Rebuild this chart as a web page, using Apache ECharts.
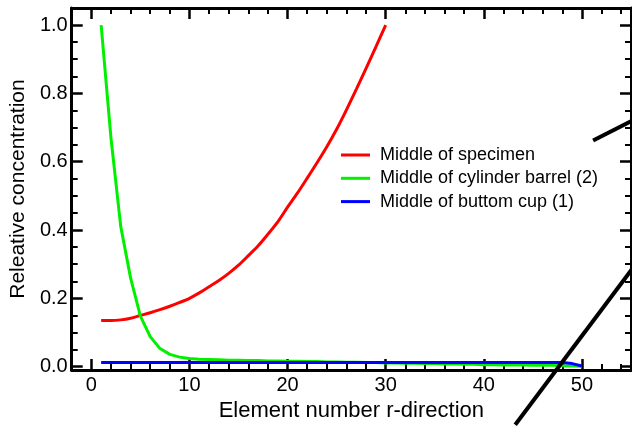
<!DOCTYPE html>
<html><head><meta charset="utf-8">
<script src="https://cdn.jsdelivr.net/npm/echarts@6/dist/echarts.min.js"></script>
<style>html,body{margin:0;padding:0;background:#fff}#c{width:632px;height:427px}</style>
</head><body><div id="c"></div>
<script>
// ---- data ----
const seriesNames = ['Middle of specimen', 'Middle of cylinder barrel (2)', 'Middle of buttom cup (1)'];
const redElements = [1,2,3,4,5,6,7,8,9,10,11,12,13,14,15,16,17,18,19,20,21,22,23,24,25,26,27,28,29,30];
const redValues = [0.135,0.135,0.137,0.142,0.150,0.158,0.167,0.177,0.188,0.200,0.216,0.234,0.252,0.273,0.297,0.325,0.354,0.388,0.424,0.467,0.508,0.552,0.597,0.644,0.695,0.752,0.812,0.873,0.936,1.000];
const fullElements = [1,2,3,4,5,6,7,8,9,10,11,12,13,14,15,16,17,18,19,20,21,22,23,24,25,26,27,28,29,30,31,32,33,34,35,36,37,38,39,40,41,42,43,44,45,46,47,48,49,50];
const greenValues = [1.0,0.67,0.41,0.26,0.148,0.088,0.053,0.036,0.028,0.024,0.022,0.021,0.020,0.019,0.019,0.018,0.018,0.017,0.017,0.016,0.016,0.015,0.015,0.014,0.014,0.013,0.013,0.012,0.012,0.011,0.011,0.010,0.010,0.009,0.009,0.008,0.008,0.007,0.007,0.006,0.006,0.005,0.005,0.005,0.004,0.004,0.004,0.003,0.002,0.001];
const blueValues = [0.012,0.012,0.012,0.012,0.012,0.012,0.012,0.012,0.012,0.012,0.012,0.012,0.012,0.012,0.012,0.012,0.012,0.012,0.012,0.012,0.012,0.012,0.012,0.012,0.012,0.012,0.012,0.012,0.012,0.012,0.012,0.012,0.012,0.012,0.012,0.012,0.012,0.012,0.012,0.012,0.012,0.012,0.012,0.012,0.012,0.012,0.012,0.012,0.009,0.002];
// stray black strokes from a neighbouring figure (in this chart's data coordinates)
const strayLineA = [[51.14, 0.662], [55.5, 0.726]];
const strayLineB = [[43.2, -0.170], [55.5, 0.301]];
// tick labels
const xMajorTicks = [0, 10, 20, 30, 40, 50];
const xMinorTicks = [2,4,6,8,12,14,16,18,22,24,26,28,32,34,36,38,42,44,46,48,52,54];
const yMajorTicks = [0, 0.2, 0.4, 0.6, 0.8, 1.0];
const yMinorTicks = [0.05,0.1,0.15,0.25,0.3,0.35,0.45,0.5,0.55,0.65,0.7,0.75,0.85,0.9,0.95];

// ---- chart ----
const FONT = '"Liberation Sans", Arial, Helvetica, sans-serif';
const pair = (xs, ys) => xs.map((x, i) => [x, ys[i]]);

function axis(kind, pos, ticks, len, w, showLine, labels, extra) {
  const a = {
    type: 'value', position: pos,
    min: kind === 'x' ? -2 : -0.01, max: kind === 'x' ? 55 : 1.05,
    axisLine: { show: showLine, onZero: false, lineStyle: { color: '#000', width: 3 } },
    axisTick: { show: true, inside: true, length: len, customValues: ticks, lineStyle: { color: '#000', width: w } },
    axisLabel: labels ? Object.assign({ customValues: ticks, color: '#000', fontFamily: FONT, fontSize: 20 }, labels) : { show: false },
    splitLine: { show: false }
  };
  return Object.assign(a, extra || {});
}

const chart = echarts.init(document.getElementById('c'), null, { renderer: 'canvas' });
chart.setOption({
  animation: false,
  backgroundColor: '#fff',
  grid: { left: 67, right: 1, top: 8, bottom: 49, containLabel: false },
  xAxis: [
    axis('x', 'bottom', xMajorTicks, 11, 2.5, true, { margin: 5, formatter: v => String(v) }, {
      name: 'Element number r-direction', nameLocation: 'middle', nameGap: 21,
      nameTextStyle: { color: '#000', fontFamily: FONT, fontSize: 22 }
    }),
    axis('x', 'bottom', xMinorTicks, 6, 2, false, null),
    axis('x', 'top', xMajorTicks, 11, 2.5, true, null),
    axis('x', 'top', xMinorTicks, 6, 2, false, null)
  ],
  yAxis: [
    axis('y', 'left', yMajorTicks, 11, 2.5, true, { margin: 4, formatter: v => v.toFixed(1) }, {
      name: 'Releative concentration', nameLocation: 'middle', nameGap: 32, nameRotate: 90,
      nameTextStyle: { color: '#000', fontFamily: FONT, fontSize: 21 }
    }),
    axis('y', 'left', yMinorTicks, 6, 2, false, null),
    axis('y', 'right', yMajorTicks, 11, 2.5, true, null),
    axis('y', 'right', yMinorTicks, 6, 2, false, null)
  ],
  legend: {
    data: seriesNames, orient: 'vertical', left: 341, top: 146, padding: 0,
    icon: 'rect', itemWidth: 29, itemHeight: 3, itemGap: 5.3,
    textStyle: { color: '#000', fontFamily: FONT, fontSize: 18, lineHeight: 18, padding: [0, 0, 0, 5] }
  },
  series: [
    { name: seriesNames[0], type: 'line', data: pair(redElements, redValues), symbol: 'none', smooth: 0.3, color: '#ff0000', lineStyle: { width: 3 } },
    { name: seriesNames[1], type: 'line', data: pair(fullElements, greenValues), symbol: 'none', color: '#00f000', lineStyle: { width: 3 } },
    { name: seriesNames[2], type: 'line', data: pair(fullElements, blueValues), symbol: 'none', color: '#0000ff', lineStyle: { width: 3 } },
    { name: 'strayA', type: 'line', data: strayLineA, symbol: 'none', clip: false, color: '#000', lineStyle: { width: 4 }, silent: true },
    { name: 'strayB', type: 'line', data: strayLineB, symbol: 'none', clip: false, color: '#000', lineStyle: { width: 4 }, silent: true }
  ]
});
</script></body></html>
